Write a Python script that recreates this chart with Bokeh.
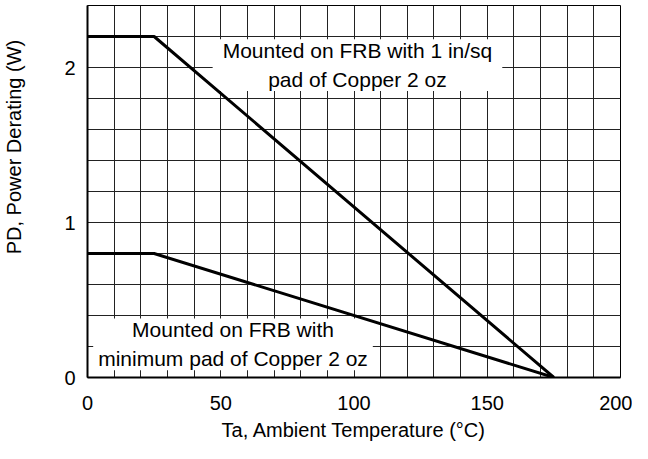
import math
from bokeh.plotting import figure
from bokeh.models import Range1d, FixedTicker, SingleIntervalTicker, Label
from bokeh.embed import file_html
from bokeh.resources import INLINE

# ---- data ----
temp_1in = [0, 25, 175]
pd_1in = [2.2, 2.2, 0.0]
temp_min = [0, 25, 175]
pd_min = [0.8, 0.8, 0.0]
x_ticks = [0, 50, 100, 150, 200]
y_ticks = [0, 1, 2]
label_1in = "Mounted on FRB with 1 in/sq\npad of Copper 2 oz"
label_min = "Mounted on FRB with\nminimum pad of Copper 2 oz"
x_title = "Ta, Ambient Temperature (\u00b0C)"
y_title = "PD, Power Derating (W)"

FONT = "Liberation Sans"

p = figure(width=632, height=443, output_backend="svg", toolbar_location=None,
           x_range=Range1d(0, 200), y_range=Range1d(0, 2.4),
           min_border_left=87, min_border_right=12, min_border_top=5, min_border_bottom=66)
p.background_fill_color = "white"
p.border_fill_color = "white"
p.outline_line_color = "black"
p.outline_line_width = 1

# grid
p.xgrid.ticker = SingleIntervalTicker(interval=10)
p.ygrid.ticker = SingleIntervalTicker(interval=0.2)
for g in (p.xgrid, p.ygrid):
    g.grid_line_color = "#222222"
    g.grid_line_width = 1
    g.grid_line_alpha = 1.0

# axes
p.xaxis.ticker = FixedTicker(ticks=x_ticks)
p.yaxis.ticker = FixedTicker(ticks=y_ticks)
for ax in (p.xaxis[0], p.yaxis[0]):
    ax.major_tick_line_color = None
    ax.minor_tick_line_color = None
    ax.axis_line_color = "black"
    ax.axis_line_width = 2
    ax.major_label_text_font = FONT
    ax.major_label_text_font_size = "20px"
    ax.major_label_text_color = "black"
    ax.axis_label_text_font = FONT
    ax.axis_label_text_font_size = "20px"
    ax.axis_label_text_font_style = "normal"
    ax.axis_label_text_color = "black"
p.xaxis.major_label_standoff = 12
p.yaxis.major_label_standoff = 6
p.xaxis.axis_label = x_title
p.xaxis.axis_label_standoff = 6
# leading non-breaking spaces push the centred title up, as in the reference
p.yaxis.axis_label = "\u00a0" * 16 + y_title
p.yaxis.axis_label_standoff = 36

# text boxes (under the curves, over the grid)
lab1 = Label(x=101.3, y=2.016, text=label_1in, text_align="center", text_baseline="middle",
             text_font=FONT, text_font_size="21px", text_color="black", text_line_height=1.25,
             background_fill_color="white", background_fill_alpha=1.0, padding=(10, 0), level="underlay")
lab2 = Label(x=54.6, y=0.214, text=label_min, text_align="center", text_baseline="middle",
             text_font=FONT, text_font_size="21px", text_color="black", text_line_height=1.25,
             background_fill_color="white", background_fill_alpha=1.0, padding=(5, 0), level="underlay")
p.add_layout(lab1)
p.add_layout(lab2)

# curves
p.line(temp_1in, pd_1in, line_color="black", line_width=3)
p.line(temp_min, pd_min, line_color="black", line_width=3)

open("out.html", "w").write(file_html(p, INLINE))
